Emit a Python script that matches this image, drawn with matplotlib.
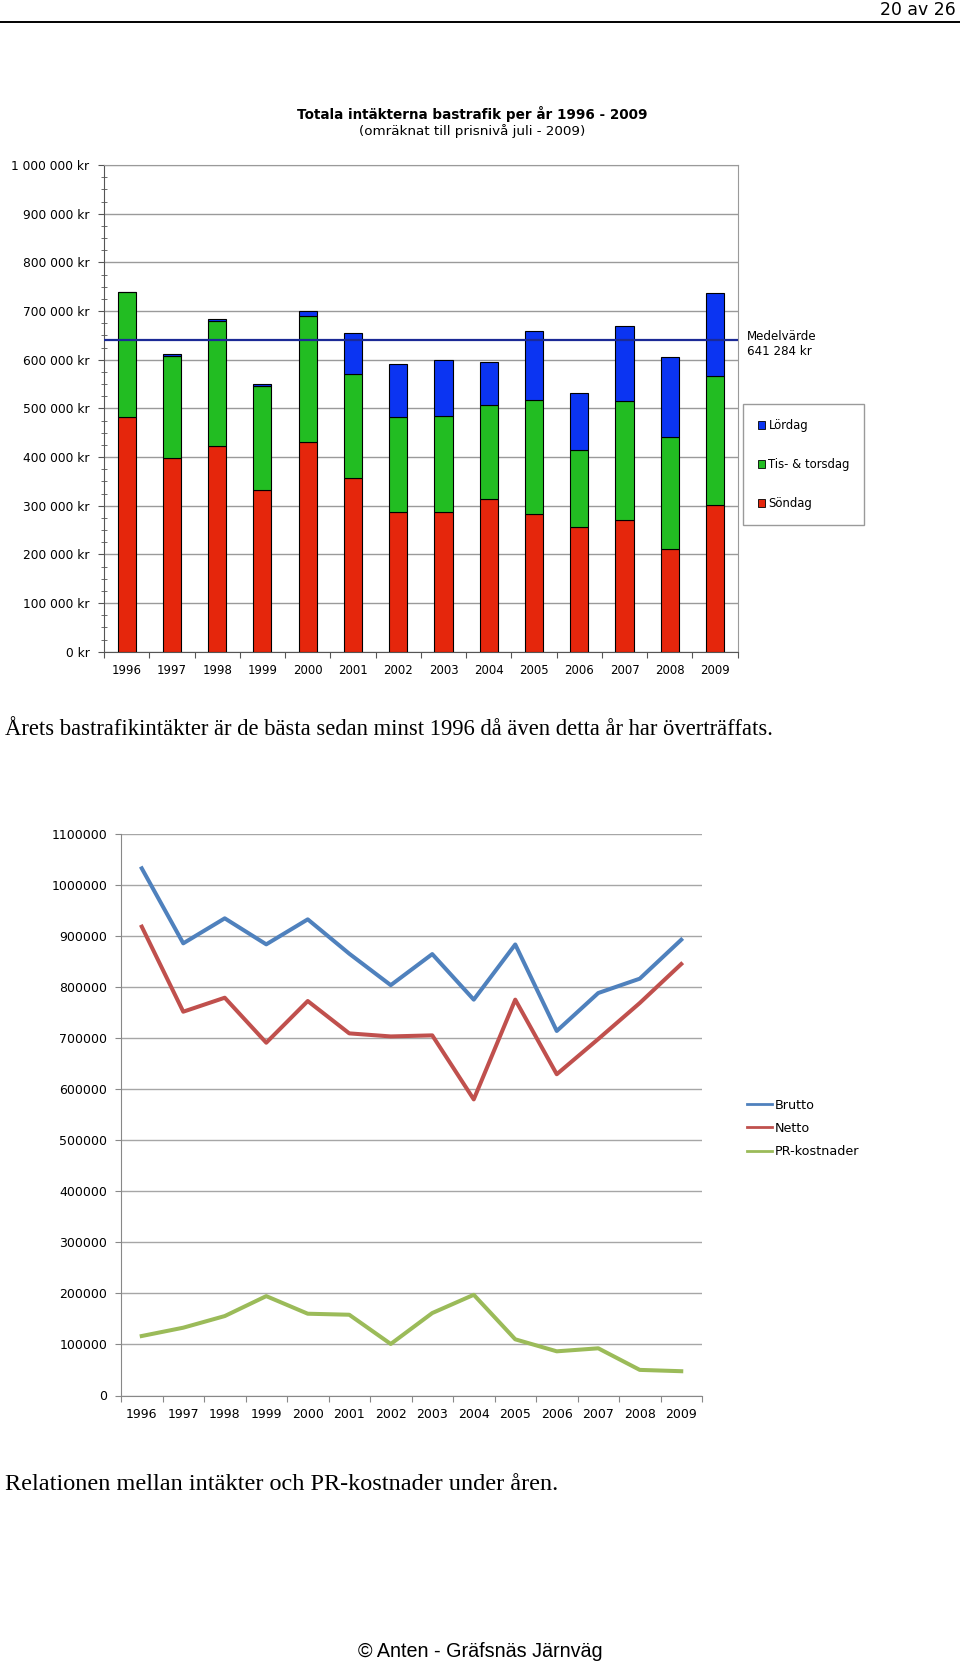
import matplotlib
matplotlib.use('Agg')
import matplotlib.pyplot as plt
import numpy as np
from matplotlib.patches import Patch
from matplotlib.lines import Line2D
from matplotlib.ticker import FuncFormatter, MultipleLocator

years = ['1996', '1997', '1998', '1999', '2000', '2001', '2002',
         '2003', '2004', '2005', '2006', '2007', '2008', '2009']

# stapeldiagram: intäkter per veckodag (kr)
sondag = [483000, 398700, 422600, 331600, 430900, 357500, 287000,
          286400, 314400, 283600, 256200, 270000, 210400, 300800]
tis_tors = [256000, 208800, 256400, 214400, 258100, 213700, 196000,
            198600, 193100, 232800, 158200, 246000, 231400, 266200]
lordag = [0, 4200, 5000, 4000, 11600, 82800, 107500,
          114400, 87100, 142600, 117800, 154000, 163700, 170000]
medelvarde = 641284

# linjediagram
brutto = [1033300, 886300, 935300, 884300, 933300, 866000, 804300,
          865200, 775900, 884100, 714500, 788900, 817000, 893300]
netto = [919000, 752300, 779700, 691500, 773200, 709800, 703800,
         705900, 580400, 775900, 629700, 698700, 769300, 845700]
pr_kostnader = [116600, 132900, 155700, 194800, 160300, 158300, 101000,
                161600, 197400, 110100, 86600, 92500, 50200, 47600]

W, H = 960, 1663
RED = '#e5260c'
GREEN = '#22bd22'
BLUE = '#0b34f2'
NAVY = '#1b2a96'
LINE_COLORS = ['#4f81bd', '#c0504d', '#9bbb59']


def fx(px):
    return px / W


def fy(py):
    return 1 - py / H


def kr_fmt(v, pos):
    s = f'{int(round(v)):,}'.replace(',', ' ')
    return f'{s} kr'


fig = plt.figure(figsize=(W / 100, H / 100), dpi=100)
fig.patch.set_facecolor('white')

# sidhuvud
fig.text(fx(956), fy(10), '20 av 26', ha='right', va='center',
         fontsize=12.4, family='DejaVu Sans')
fig.add_artist(Line2D([0, 1], [fy(21.7), fy(21.7)], color='black',
                      linewidth=1.4, transform=fig.transFigure))

# ---------- stapeldiagram ----------
ax = fig.add_axes([fx(104), fy(651.7), fx(737.7 - 104), (651.7 - 165) / H])
x = np.arange(len(years))
bw = 0.40
bottom2 = np.array(sondag)
bottom3 = bottom2 + np.array(tis_tors)
ax.bar(x, sondag, bw, color=RED, edgecolor='black', linewidth=0.8, zorder=3)
ax.bar(x, tis_tors, bw, bottom=bottom2, color=GREEN, edgecolor='black',
       linewidth=0.8, zorder=3)
ax.bar(x, lordag, bw, bottom=bottom3, color=BLUE, edgecolor='black',
       linewidth=0.8, zorder=3)
ax.axhline(medelvarde, color=NAVY, linewidth=1.6, zorder=4)

ax.set_xlim(-0.5, len(years) - 0.5)
ax.set_ylim(0, 1000000)
ax.yaxis.set_major_locator(MultipleLocator(100000))
ax.yaxis.set_minor_locator(MultipleLocator(25000))
ax.yaxis.set_major_formatter(FuncFormatter(kr_fmt))
ax.grid(axis='y', which='major', color='#9a9a9a', linewidth=1.0, zorder=0)
ax.tick_params(axis='y', which='major', direction='out', length=4,
               color='#555555', pad=6.5, labelsize=8.8)
ax.tick_params(axis='y', which='minor', direction='inout', length=5,
               color='#555555')
ax.set_xticks(np.arange(-0.5, len(years), 1.0))
ax.set_xticklabels([])
ax.set_xticks(x, minor=True)
ax.set_xticklabels(years, minor=True)
ax.tick_params(axis='x', which='major', direction='out', length=4,
               color='#555555')
ax.tick_params(axis='x', which='minor', length=0, pad=9, labelsize=8.5)
for s in ['left', 'bottom']:
    ax.spines[s].set_color('#555555')
for s in ['top', 'right']:
    ax.spines[s].set_color('#9a9a9a')

fig.text(fx(472), fy(114), 'Totala intäkterna bastrafik per år 1996 - 2009',
         ha='center', va='center', fontsize=9.75, fontweight='bold')
fig.text(fx(472), fy(131), '(omräknat till prisnivå juli - 2009)',
         ha='center', va='center', fontsize=9.7)
fig.text(fx(746.7), fy(344), f'Medelvärde\n{medelvarde // 1000} {medelvarde % 1000} kr',
         ha='left', va='center', fontsize=8.6, linespacing=1.25)

leg = fig.legend(handles=[Patch(facecolor=BLUE, edgecolor='black', linewidth=0.6),
                          Patch(facecolor=GREEN, edgecolor='black', linewidth=0.6),
                          Patch(facecolor=RED, edgecolor='black', linewidth=0.6)],
                 labels=['Lördag', 'Tis- & torsdag', 'Söndag'],
                 loc='upper left', bbox_to_anchor=(fx(743.3), fy(404.3)),
                 bbox_transform=fig.transFigure, borderaxespad=0,
                 fontsize=8.4, handlelength=0.65, handleheight=0.65,
                 handletextpad=0.25, labelspacing=2.25, borderpad=1.25,
                 fancybox=False, framealpha=1)
leg.get_frame().set_edgecolor('#9a9a9a')
leg.get_frame().set_linewidth(1.0)

fig.text(fx(5), fy(730), 'Årets bastrafikintäkter är de bästa sedan minst 1996 då även detta år har överträffats.',
         ha='left', va='center', fontsize=16.3, family='Liberation Serif')

# ---------- linjediagram ----------
ax2 = fig.add_axes([fx(121), fy(1395.5), fx(581), (1395.5 - 834.3) / H])
for vals, col in zip([brutto, netto, pr_kostnader], LINE_COLORS):
    ax2.plot(x, vals, color=col, linewidth=2.9, zorder=3)
ax2.set_xlim(-0.5, len(years) - 0.5)
ax2.set_ylim(0, 1100000)
ax2.yaxis.set_major_locator(MultipleLocator(100000))
ax2.yaxis.set_major_formatter(FuncFormatter(lambda v, p: f'{int(v)}'))
ax2.grid(axis='y', color='#a6a6a6', linewidth=1.0, zorder=0)
ax2.set_xticks(np.arange(-0.5, len(years), 1.0))
ax2.set_xticklabels([])
ax2.set_xticks(x, minor=True)
ax2.set_xticklabels(years, minor=True)
ax2.tick_params(axis='x', which='major', direction='out', length=4, color='#888888')
ax2.tick_params(axis='x', which='minor', length=0, pad=9, labelsize=9)
ax2.tick_params(axis='y', direction='out', length=4, color='#888888', pad=6, labelsize=9)
for s in ['top', 'right']:
    ax2.spines[s].set_visible(False)
for s in ['left', 'bottom']:
    ax2.spines[s].set_color('#888888')

fig.legend(handles=[Line2D([0], [0], color=c, linewidth=2.0) for c in LINE_COLORS],
           labels=['Brutto', 'Netto', 'PR-kostnader'],
           loc='center left', bbox_to_anchor=(fx(746.7), fy(1128.3)),
           bbox_transform=fig.transFigure, borderaxespad=0, borderpad=0,
           frameon=False, fontsize=9.2, handlelength=2.0, handletextpad=0.2,
           labelspacing=0.8)

fig.text(fx(5), fy(1485), 'Relationen mellan intäkter och PR-kostnader under åren.',
         ha='left', va='center', fontsize=17.5, family='Liberation Serif')

fig.text(fx(480.5), fy(1651.6), '© Anten - Gräfsnäs Järnväg', ha='center', va='center',
         fontsize=14.2, family='Liberation Sans')

fig.savefig('out.png', dpi=100)
